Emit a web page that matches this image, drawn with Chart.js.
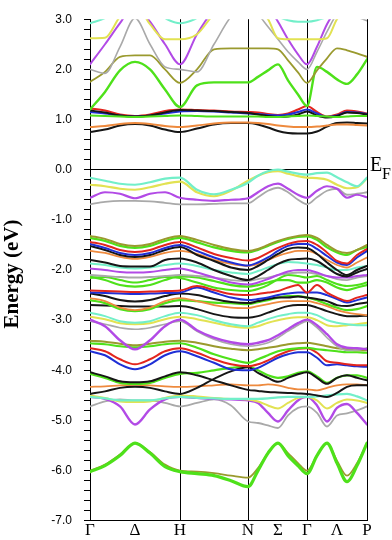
<!DOCTYPE html>
<html><head><meta charset="utf-8">
<script src="https://cdn.jsdelivr.net/npm/chart.js@4.4.1/dist/chart.umd.min.js"></script>
<style>html,body{margin:0;padding:0;background:#fff;}#wrap{width:392px;height:540px;}</style>
</head><body><div id="wrap"><canvas id="c" width="392" height="540"></canvas></div>
<script>
// k-path sample positions (Γ-H-N-Γ-P)
const kPoints = [0,15,30,45,60,75,90, 107,124,141,158, 168,178,188,198,208,217, 227,237,247,257,267,277];
const kTickPos = [0,45,90,158,188,217,247,277];
const kTickLabels = ['Γ','Δ','H','N','Σ','Γ','Λ','P'];
const kLinePos = [90,158,217,277];
const yMin = -7, yMax = 3;

// conduction bands (eV)
const cbBlack  = [0.75,0.80,0.88,0.91,0.88,0.80,0.75, 0.82,0.90,0.93,0.93, 0.90,0.84,0.77,0.73,0.72,0.72, 0.76,0.86,0.93,0.94,0.93,0.92];
const cbOrange = [0.85,0.87,0.91,0.93,0.91,0.87,0.85, 0.88,0.92,0.94,0.94, 0.93,0.91,0.88,0.86,0.85,0.85, 0.86,0.88,0.90,0.90,0.89,0.88];
const cbLime   = [1.08,1.07,1.06,1.05,1.06,1.07,1.08, 1.07,1.06,1.06,1.06, 1.06,1.05,1.05,1.06,1.07,1.08, 1.07,1.06,1.05,1.06,1.07,1.07];
const cbRed    = [1.22,1.18,1.10,1.07,1.10,1.17,1.20, 1.19,1.18,1.16,1.15, 1.14,1.11,1.09,1.12,1.20,1.27, 1.15,1.06,1.10,1.18,1.16,1.12];
const cbBlue   = [1.15,1.12,1.08,1.06,1.08,1.12,1.16, 1.17,1.16,1.14,1.12, 1.11,1.09,1.08,1.10,1.15,1.20, 1.12,1.05,1.08,1.15,1.14,1.11];
const cbBlack2 = [1.18,1.14,1.08,1.06,1.08,1.14,1.19, 1.18,1.17,1.15,1.13, 1.10,1.07,1.05,1.06,1.10,1.16, 1.08,1.04,1.07,1.14,1.13,1.10];
const cbGreen  = [1.20,1.55,1.98,2.15,2.00,1.60,1.25, 1.68,1.74,1.74,1.74, 1.85,1.98,2.10,1.78,1.50,1.27, 2.05,1.95,1.80,1.71,1.90,2.20];
const cbOlive  = [1.75,1.95,2.25,2.28,2.28,2.00,1.73, 2.00,2.40,2.42,2.42, 2.42,2.42,2.40,2.18,1.94,1.73, 1.98,2.22,2.42,2.38,2.32,2.25];
const cbGray   = [2.00,1.92,2.45,3.02,2.50,2.05,2.00, 1.95,2.50,3.05,3.30, 3.10,2.85,2.60,2.35,2.15,2.00, 2.35,2.75,3.10,3.20,3.05,2.97];
const cbPurple = [2.10,2.50,2.92,3.30,2.95,2.50,2.10, 2.70,3.20,3.50,3.60, 3.50,3.25,2.95,2.60,2.30,2.10, 2.45,2.90,3.20,3.40,3.50,3.50];
const cbYellow = [2.62,2.63,3.05,3.30,2.90,2.60,2.60, 2.70,3.10,3.30,3.30, 3.20,3.00,2.62,2.60,2.60,2.60, 2.60,2.62,3.00,3.20,3.20,3.10];
const cbCyan   = [2.92,3.02,3.20,3.30,3.20,3.02,2.92, 3.02,3.20,3.30,3.30, 3.25,3.15,3.05,2.98,2.95,2.95, 2.98,3.05,3.20,3.30,3.30,3.30];

// upper valence bands
const vbCyan   = [-0.16,-0.22,-0.28,-0.30,-0.25,-0.18,-0.16, -0.40,-0.49,-0.40,-0.26, -0.12,-0.03,0.00,-0.04,-0.08,-0.10, -0.07,-0.06,-0.15,-0.25,-0.33,-0.16];
const vbYellow = [-0.30,-0.33,-0.38,-0.40,-0.35,-0.28,-0.24, -0.45,-0.53,-0.42,-0.22, -0.12,-0.05,-0.03,-0.08,-0.13,-0.16, -0.17,-0.20,-0.30,-0.37,-0.35,-0.17];
const vbPurple = [-0.56,-0.45,-0.48,-0.57,-0.48,-0.45,-0.56, -0.60,-0.62,-0.60,-0.57, -0.45,-0.33,-0.28,-0.38,-0.50,-0.56, -0.42,-0.33,-0.38,-0.56,-0.50,-0.55];
const vbGray   = [-0.69,-0.64,-0.62,-0.62,-0.63,-0.66,-0.69, -0.69,-0.68,-0.67,-0.67, -0.55,-0.42,-0.36,-0.45,-0.60,-0.69, -0.55,-0.42,-0.38,-0.50,-0.48,-0.45];

// deeper valence bands
const d01Olive  = [-1.32,-1.38,-1.48,-1.52,-1.48,-1.38,-1.32, -1.40,-1.50,-1.58,-1.62, -1.58,-1.50,-1.42,-1.36,-1.32,-1.30, -1.36,-1.50,-1.62,-1.66,-1.60,-1.50];
const d02Green  = [-1.36,-1.42,-1.52,-1.56,-1.52,-1.42,-1.36, -1.45,-1.55,-1.62,-1.65, -1.60,-1.52,-1.44,-1.38,-1.34,-1.33, -1.40,-1.55,-1.65,-1.70,-1.60,-1.54];
const d03Red    = [-1.44,-1.50,-1.60,-1.64,-1.60,-1.50,-1.44, -1.55,-1.68,-1.76,-1.81, -1.76,-1.66,-1.56,-1.48,-1.43,-1.42, -1.50,-1.65,-1.82,-1.87,-1.70,-1.58];
const d04Blue   = [-1.48,-1.56,-1.66,-1.70,-1.66,-1.56,-1.50, -1.62,-1.75,-1.85,-1.91, -1.85,-1.75,-1.62,-1.52,-1.48,-1.48, -1.58,-1.72,-1.85,-1.90,-1.75,-1.62];
const d05Black  = [-1.52,-1.60,-1.70,-1.74,-1.70,-1.60,-1.54, -1.70,-1.82,-1.95,-2.00, -1.92,-1.80,-1.68,-1.58,-1.55,-1.56, -1.68,-1.85,-2.00,-2.10,-2.00,-1.92];
const d06Black  = [-1.80,-1.85,-1.92,-1.93,-1.93,-1.80,-1.77, -1.85,-2.00,-2.12,-2.20, -2.12,-2.00,-1.88,-1.80,-1.78,-1.77, -1.82,-1.95,-2.08,-2.13,-2.05,-1.98];
const d07Cyan   = [-1.87,-1.90,-1.95,-1.97,-1.95,-1.90,-1.87, -1.92,-2.00,-2.05,-2.08, -2.02,-1.95,-1.88,-1.84,-1.85,-1.87, -1.90,-1.95,-2.00,-2.00,-1.95,-1.92];
const d08Orange = [-1.62,-1.66,-1.74,-1.78,-1.74,-1.66,-1.62, -1.68,-1.80,-1.88,-1.92, -1.88,-1.80,-1.72,-1.66,-1.62,-1.62, -1.68,-1.80,-1.90,-1.95,-1.85,-1.75];
const d09Purple = [-1.97,-2.00,-2.04,-2.05,-2.04,-2.00,-1.97, -2.05,-2.15,-2.25,-2.29, -2.25,-2.18,-2.10,-2.03,-2.00,-2.00, -2.05,-2.12,-2.15,-2.15,-2.12,-2.10];
const d10Gray   = [-2.10,-2.12,-2.14,-2.15,-2.14,-2.12,-2.10, -2.12,-2.15,-2.20,-2.22, -2.18,-2.15,-2.10,-2.07,-2.05,-2.05, -2.08,-2.12,-2.18,-2.20,-2.15,-2.12];
const d11Green  = [-2.13,-2.20,-2.30,-2.33,-2.30,-2.20,-2.13, -2.15,-2.22,-2.30,-2.33, -2.30,-2.25,-2.20,-2.20,-2.25,-2.25, -2.20,-2.25,-2.35,-2.40,-2.35,-2.30];
const d12Green  = [-2.16,-2.14,-2.20,-2.25,-2.20,-2.14,-2.16, -2.25,-2.35,-2.40,-2.42, -2.38,-2.30,-2.18,-2.10,-2.12,-2.15, -2.12,-2.20,-2.28,-2.32,-2.30,-2.25];
const d13Red    = [-2.41,-2.42,-2.43,-2.44,-2.43,-2.42,-2.41, -2.32,-2.40,-2.48,-2.50, -2.48,-2.45,-2.42,-2.35,-2.30,-2.45, -2.30,-2.45,-2.55,-2.62,-2.55,-2.50];
const d14Blue   = [-2.45,-2.46,-2.47,-2.48,-2.47,-2.46,-2.45, -2.35,-2.45,-2.55,-2.60, -2.58,-2.55,-2.50,-2.47,-2.45,-2.45, -2.45,-2.50,-2.58,-2.65,-2.60,-2.55];
const d15Black  = [-2.47,-2.52,-2.60,-2.63,-2.60,-2.52,-2.47, -2.50,-2.58,-2.64,-2.66, -2.62,-2.58,-2.55,-2.55,-2.53,-2.55, -2.58,-2.62,-2.70,-2.72,-2.68,-2.65];
const d16Orange = [-2.56,-2.62,-2.75,-2.80,-2.75,-2.62,-2.56, -2.62,-2.70,-2.75,-2.76, -2.72,-2.68,-2.64,-2.62,-2.62,-2.62, -2.66,-2.72,-2.80,-2.85,-2.88,-2.90];
const d17Green  = [-2.60,-2.66,-2.78,-2.82,-2.78,-2.66,-2.60, -2.62,-2.65,-2.66,-2.68, -2.64,-2.60,-2.55,-2.52,-2.52,-2.55, -2.60,-2.68,-2.75,-2.80,-2.78,-2.72];
const d18Black  = [-2.70,-2.71,-2.72,-2.73,-2.73,-2.73,-2.72, -2.78,-2.88,-2.94,-2.95, -2.92,-2.85,-2.78,-2.72,-2.70,-2.70, -2.75,-2.82,-2.88,-2.92,-2.92,-2.91];
const d19Cyan   = [-2.85,-2.92,-3.02,-3.05,-3.02,-2.92,-2.85, -2.90,-3.00,-3.08,-3.12, -3.05,-2.98,-2.92,-2.88,-2.85,-2.85, -2.90,-3.00,-3.05,-3.08,-3.10,-3.10];
const d20Yellow = [-2.93,-2.98,-3.06,-3.08,-3.06,-2.98,-2.93, -2.98,-3.05,-3.12,-3.15, -3.12,-3.05,-3.00,-2.96,-2.94,-2.94, -3.00,-3.10,-3.12,-3.10,-3.08,-3.05];
const d21Purple = [-2.99,-3.12,-3.40,-3.58,-3.40,-3.12,-2.99, -3.20,-3.35,-3.44,-3.48, -3.45,-3.40,-3.30,-3.18,-3.06,-2.99, -3.10,-3.28,-3.48,-3.55,-3.56,-3.58];
const d22Gray   = [-3.02,-3.08,-3.15,-3.18,-3.15,-3.08,-3.02, -3.22,-3.38,-3.48,-3.52, -3.50,-3.45,-3.35,-3.22,-3.10,-3.02, -3.15,-3.35,-3.52,-3.60,-3.60,-3.55];
const d23Olive  = [-3.41,-3.43,-3.47,-3.50,-3.47,-3.43,-3.41, -3.45,-3.52,-3.57,-3.60, -3.58,-3.55,-3.52,-3.48,-3.46,-3.45, -3.48,-3.52,-3.56,-3.58,-3.60,-3.60];
const d24Green  = [-3.46,-3.48,-3.52,-3.54,-3.52,-3.48,-3.46, -3.55,-3.68,-3.78,-3.85, -3.78,-3.70,-3.62,-3.58,-3.56,-3.55, -3.58,-3.60,-3.62,-3.64,-3.64,-3.65];
const d25Red    = [-3.56,-3.62,-3.78,-3.88,-3.78,-3.62,-3.56, -3.65,-3.78,-3.88,-3.92, -3.88,-3.80,-3.70,-3.62,-3.57,-3.56, -3.65,-3.82,-3.85,-3.88,-3.90,-3.90];
const d26Blue   = [-3.62,-3.70,-3.88,-3.98,-3.88,-3.70,-3.62, -3.72,-3.85,-3.98,-4.00, -3.95,-3.85,-3.75,-3.68,-3.64,-3.64, -3.75,-3.90,-3.88,-3.90,-3.92,-3.93];
const d27Black  = [-4.04,-4.12,-4.22,-4.24,-4.22,-4.12,-4.04, -4.10,-4.20,-4.30,-4.39, -4.41,-4.43,-4.44,-4.45,-4.46,-4.47, -4.50,-4.53,-4.45,-4.33,-4.30,-4.30];
const d28Black  = [-4.47,-4.42,-4.35,-4.33,-4.35,-4.42,-4.47, -4.35,-4.17,-4.02,-3.94, -4.05,-4.15,-4.23,-4.15,-4.08,-4.04, -4.15,-4.27,-4.15,-4.10,-4.15,-4.20];
const d29Lime   = [-4.07,-4.15,-4.25,-4.27,-4.25,-4.15,-4.07, -4.05,-4.00,-3.95,-3.92, -4.00,-4.10,-4.15,-4.12,-4.05,-4.02, -4.12,-4.25,-4.15,-4.10,-4.10,-4.15];
const d30Orange = [-4.33,-4.32,-4.30,-4.29,-4.30,-4.32,-4.33, -4.32,-4.30,-4.28,-4.30, -4.30,-4.28,-4.30,-4.35,-4.38,-4.38, -4.40,-4.35,-4.30,-4.28,-4.28,-4.30];
const d31Cyan   = [-4.53,-4.56,-4.60,-4.60,-4.60,-4.56,-4.53, -4.55,-4.56,-4.57,-4.57, -4.57,-4.56,-4.54,-4.53,-4.53,-4.53, -4.52,-4.50,-4.48,-4.47,-4.52,-4.60];
const d32Yellow = [-4.50,-4.55,-4.62,-4.63,-4.62,-4.55,-4.50, -4.52,-4.55,-4.57,-4.58, -4.62,-4.70,-4.76,-4.65,-4.55,-4.53, -4.60,-4.76,-4.65,-4.58,-4.60,-4.65];
const d33Purple = [-4.53,-4.57,-4.72,-5.08,-4.78,-4.58,-4.53, -4.55,-4.57,-4.58,-4.60, -4.65,-4.85,-5.02,-4.80,-4.60,-4.53, -4.70,-5.02,-4.75,-4.67,-4.85,-5.08];
const d34Gray   = [-4.72,-4.62,-4.58,-4.60,-4.60,-4.65,-4.72, -4.65,-4.58,-4.70,-5.02, -5.05,-5.10,-5.15,-4.90,-4.75,-4.72, -4.85,-5.12,-4.90,-4.86,-4.80,-4.72];
const d35Green  = [-6.02,-5.90,-5.70,-5.45,-5.65,-5.92,-6.02, -6.06,-6.10,-6.20,-6.32, -6.00,-5.65,-5.45,-5.70,-5.90,-6.06, -5.70,-5.45,-5.85,-6.22,-5.90,-5.45];
const d36Olive  = [-6.00,-5.88,-5.68,-5.45,-5.63,-5.88,-6.00, -6.02,-6.05,-6.10,-6.14, -5.95,-5.65,-5.45,-5.65,-5.85,-6.00, -5.70,-5.45,-5.80,-6.10,-5.85,-5.45];

const COL = {black:'#161616', red:'#e3261e', blue:'#1f2fd6', green:'#4ee11a', olive:'#9a9a2e',
  yellow:'#e2e252', cyan:'#72efc9', purple:'#b24ae6', gray:'#a9a9a9', orange:'#ee8a3e'};

const bands = [
  [cbCyan,'cyan',2],[cbYellow,'yellow',2],[cbPurple,'purple',2],[cbGray,'gray',1.6],
  [cbOlive,'olive',1.8],[cbGreen,'green',2.4],[cbLime,'green',2],[cbOrange,'orange',2],
  [cbBlack,'black',2],[cbBlack2,'black',2],[cbBlue,'blue',2],[cbRed,'red',2],
  [vbCyan,'cyan',2.2],[vbYellow,'yellow',2.2],[vbPurple,'purple',2.2],[vbGray,'gray',1.8],
  [d01Olive,'olive',2],[d02Green,'green',2.2],[d03Red,'red',2],[d04Blue,'blue',2],
  [d05Black,'black',2],[d06Black,'black',2],[d07Cyan,'cyan',2],[d08Orange,'orange',1.8],
  [d09Purple,'purple',2],[d10Gray,'gray',1.8],[d11Green,'green',2.2],[d12Green,'green',2],
  [d13Red,'red',2],[d14Blue,'blue',2],[d15Black,'black',2],[d16Orange,'orange',1.8],
  [d17Green,'green',2.2],[d18Black,'black',2],[d19Cyan,'cyan',2],[d20Yellow,'yellow',2],
  [d21Purple,'purple',2.4],[d22Gray,'gray',1.6],[d23Olive,'olive',2],[d24Green,'green',2.2],
  [d25Red,'red',2],[d26Blue,'blue',2],[d27Black,'black',2],[d28Black,'black',2],
  [d29Lime,'green',2.2],[d30Orange,'orange',1.8],[d31Cyan,'cyan',2.2],[d32Yellow,'yellow',2],
  [d33Purple,'purple',2.4],[d34Gray,'gray',1.8],[d35Green,'green',3.2],[d36Olive,'olive',1.8]
];

const datasets = bands.map(([arr,c,w]) => ({
  data: kPoints.map((k,i)=>({x:k,y:arr[i]})),
  borderColor: COL[c], borderWidth: w, pointRadius: 0, fill:false,
  cubicInterpolationMode:'monotone'
}));

const yTickVals = [];
for (let i = yMin*5; i <= yMax*5; i++) yTickVals.push(i/5);

const textPlugin = {
  id:'texts',
  afterDraw(chart){
    const ctx = chart.ctx;
    ctx.save();
    ctx.fillStyle = '#000';
    ctx.font = 'bold 21px "Liberation Serif"';
    ctx.translate(18, 274);
    ctx.rotate(-Math.PI/2);
    ctx.textAlign = 'center';
    ctx.textBaseline = 'alphabetic';
    ctx.fillText('Energy (eV)', 0, 0);
    ctx.restore();
    ctx.save();
    ctx.fillStyle = '#000';
    ctx.textAlign = 'left';
    ctx.textBaseline = 'alphabetic';
    ctx.font = '20px "Liberation Serif"';
    ctx.fillText('E', 370, 171);
    ctx.font = '16px "Liberation Serif"';
    ctx.fillText('F', 382, 179);
    ctx.restore();
  }
};

new Chart(document.getElementById('c'), {
  type:'line',
  data:{datasets},
  plugins:[textPlugin],
  options:{
    responsive:false, animation:false, devicePixelRatio:1,
    layout:{padding:{top:13,right:25,left:0,bottom:0}},
    plugins:{legend:{display:false}, tooltip:{enabled:false}},
    elements:{line:{borderCapStyle:'round',borderJoinStyle:'round'}},
    scales:{
      x:{type:'linear', min:0, max:277,
        afterBuildTicks(s){ s.ticks = kTickPos.map(v=>({value:v})); },
        afterFit(s){ s.height = 19; },
        ticks:{autoSkip:false, maxRotation:0, padding:0, color:'#000',
          font:{family:'"Liberation Serif"', size:17},
          callback:(v)=>kTickLabels[kTickPos.indexOf(v)]},
        grid:{drawTicks:false, lineWidth:1,
          color:(ctx)=> (ctx.tick && kLinePos.includes(ctx.tick.value)) ? '#000' : 'rgba(0,0,0,0)'},
        border:{display:true, color:'#000', width:1}
      },
      y:{type:'linear', min:yMin, max:yMax,
        afterBuildTicks(s){ s.ticks = yTickVals.map(v=>({value:v})); },
        afterFit(s){ s.width = 90; },
        ticks:{autoSkip:false, padding:12, color:'#000',
          font:{family:'"Liberation Sans"', size:12},
          callback:(v)=> Math.abs(v-Math.round(v))<1e-6 ? v.toFixed(1) : ''},
        grid:{drawTicks:true, tickLength:6, tickColor:'#000', lineWidth:1,
          color:(ctx)=> (ctx.tick && Math.abs(ctx.tick.value)<1e-6) ? '#000' : 'rgba(0,0,0,0)'},
        border:{display:true, color:'#000', width:1}
      }
    }
  }
});
</script>
</body></html>
